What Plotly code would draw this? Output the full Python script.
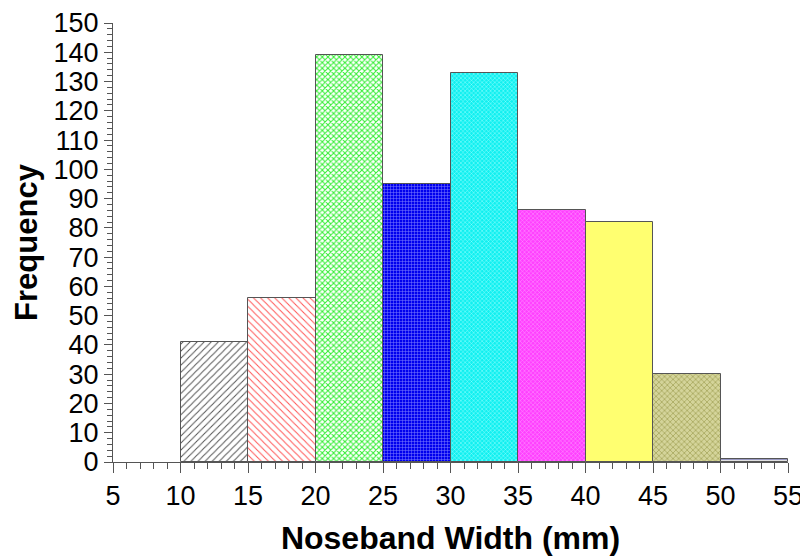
import plotly.graph_objects as go

bin_starts = [10, 15, 20, 25, 30, 35, 40, 45, 50]
frequency = [41, 56, 139, 95, 133, 86, 82, 30, 1]
bin_width = 5
x_ticks = [5, 10, 15, 20, 25, 30, 35, 40, 45, 50, 55]
y_ticks = list(range(0, 151, 10))

fg_colors = ["#555555", "#ff5555", "#33ee33", "#8080ff", "#99ffff", "#ff99ff", "#ffff99", "#9c9c50", "#9090c0"]
bg_colors = ["#ffffff", "#ffffff", "#ffffff", "#0000ee", "#11f0f0", "#ff40ff", "#ffff70", "#d4d49a", "#e0e0e0"]
shapes = ["/", "\\", "x", "+", "x", "x", "", "x", "-"]
sizes = [5, 5, 4, 3, 3, 3, 4, 4, 3]
solid = [0.2, 0.2, 0.45, 0.3, 0.3, 0.3, 0.3, 0.3, 0.3]

fig = go.Figure()
for i, (s, f) in enumerate(zip(bin_starts, frequency)):
    fig.add_trace(go.Bar(
        x=[s + bin_width / 2], y=[f], width=bin_width,
        marker=dict(
            color=bg_colors[i],
            line=dict(color="#555555", width=1),
            pattern=dict(shape=shapes[i], fgcolor=fg_colors[i], bgcolor=bg_colors[i],
                         size=sizes[i], solidity=solid[i], fillmode="replace"),
        ),
        showlegend=False, hoverinfo="x+y",
    ))

font = "Liberation Sans, Arial, sans-serif"
fig.update_layout(
    width=800, height=550,
    margin=dict(l=105, r=20, t=15, b=96, autoexpand=False),
    plot_bgcolor="white", paper_bgcolor="white",
    bargap=0,
    font=dict(family=font, color="black"),
    xaxis=dict(
        range=[5, 55], tickvals=x_ticks, ticktext=[str(v) for v in x_ticks],
        ticks="outside", ticklen=10, tickcolor="#555555", tickwidth=1,
        showline=True, linecolor="#555555", linewidth=1, showgrid=False, zeroline=False,
        tickfont=dict(size=27, family=font), automargin=False,
        minor=dict(dtick=1, ticks="outside", ticklen=6, tickcolor="#555555", showgrid=False),
        title=dict(text="<b>Noseband Width (mm)</b>", font=dict(size=32, family=font), standoff=16),
    ),
    yaxis=dict(
        range=[0, 150], tickvals=y_ticks,
        ticks="outside", ticklen=8, tickcolor="#555555", tickwidth=1,
        showline=True, linecolor="#555555", linewidth=1, showgrid=False, zeroline=False,
        tickfont=dict(size=27, family=font), automargin=False,
        minor=dict(dtick=2, ticks="outside", ticklen=5, tickcolor="#555555", showgrid=False),
        title=dict(text="<b>Frequency</b>", font=dict(size=31, family=font), standoff=6),
    ),
)

fig.write_html("out.html")
